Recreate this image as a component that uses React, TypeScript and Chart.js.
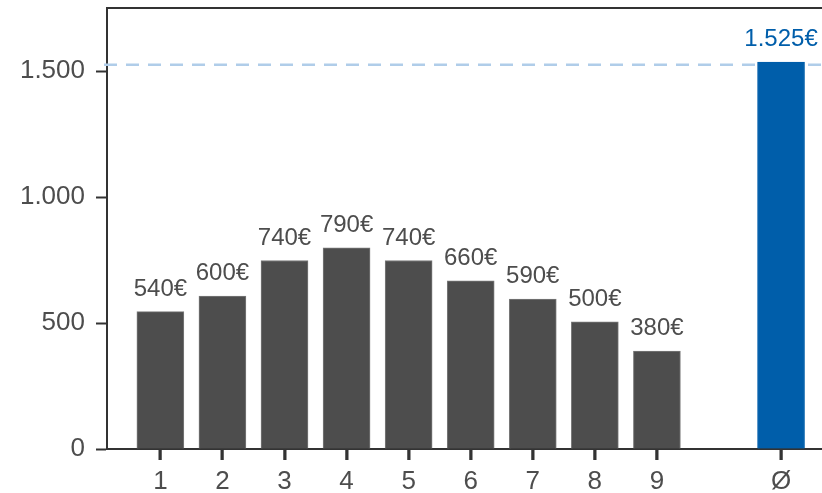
import React, { useEffect, useRef } from "react";
import { Chart, registerables } from "chart.js";

Chart.register(...registerables);

const categories: number[] = [1, 2, 3, 4, 5, 6, 7, 8, 9, 11];
const tickNames: string[] = ["1", "2", "3", "4", "5", "6", "7", "8", "9", "Ø"];
const barValues: number[] = [545, 607, 748, 798, 748, 667, 595, 505, 389, 1535];
const barLabels: string[] = ["540€", "600€", "740€", "790€", "740€", "660€", "590€", "500€", "380€", "1.525€"];
const averageValue = 1525;
const yTicks: number[] = [0, 500, 1000, 1500];

const GREY = "#4d4d4d";
const BLUE = "#005eaa";
const AXIS = "#333333";
const FONT = "'Liberation Sans', Arial, sans-serif";

function fmt(v: number): string {
  const s = Math.round(v).toString();
  return s.replace(/\B(?=(\d{3})+(?!\d))/g, ".");
}

export default function App() {
  const ref = useRef<HTMLCanvasElement | null>(null);

  useEffect(() => {
    document.body.style.margin = "0";
    document.body.style.overflow = "hidden";
    const canvas = ref.current;
    if (!canvas) return;

    const decor = {
      id: "decor",
      beforeDatasetsDraw(chart: any) {
        const { ctx, chartArea, scales } = chart;
        const y = scales.y.getPixelForValue(averageValue);
        ctx.save();
        ctx.strokeStyle = "#b0cde9";
        ctx.lineWidth = 2.5;
        ctx.setLineDash([13, 9]);
        ctx.beginPath();
        ctx.moveTo(chartArea.left - 3, y);
        ctx.lineTo(chartArea.right, y);
        ctx.stroke();
        ctx.restore();
        ctx.save();
        ctx.strokeStyle = AXIS;
        ctx.lineWidth = 2;
        ctx.beginPath();
        ctx.moveTo(chartArea.left, chartArea.top);
        ctx.lineTo(chartArea.right, chartArea.top);
        ctx.stroke();
        ctx.restore();
      },
      afterDraw(chart: any) {
        const { ctx, chartArea, scales } = chart;
        ctx.save();
        ctx.setLineDash([]);
        ctx.fillStyle = AXIS;
        categories.forEach((c) => {
          const x = Math.round(scales.x.getPixelForValue(c));
          ctx.fillRect(x - 1.5, chartArea.bottom, 3, 11);
        });
        ctx.restore();
      },
      afterDatasetsDraw(chart: any) {
        const { ctx } = chart;
        const meta = chart.getDatasetMeta(0);
        ctx.save();
        ctx.font = `24px ${FONT}`;
        ctx.textAlign = "center";
        ctx.textBaseline = "alphabetic";
        meta.data.forEach((bar: any, i: number) => {
          ctx.fillStyle = i === barLabels.length - 1 ? BLUE : GREY;
          ctx.fillText(barLabels[i], bar.x, bar.y - 16);
        });
        ctx.restore();
      },
    };

    const chart = new Chart(canvas, {
      type: "bar",
      data: {
        datasets: [
          {
            data: categories.map((c, i) => ({ x: c, y: barValues[i] })),
            backgroundColor: categories.map((c, i) => (i === categories.length - 1 ? BLUE : GREY)),
            borderColor: categories.map((c, i) => (i === categories.length - 1 ? BLUE : "#7a7a7a")),
            borderWidth: 1,
            barThickness: 47,
          },
        ],
      },
      options: {
        responsive: false,
        animation: false,
        layout: { padding: { top: 8, right: 0, left: 0, bottom: 0 } },
        plugins: { legend: { display: false }, tooltip: { enabled: false } },
        scales: {
          x: {
            type: "linear",
            offset: false,
            min: 0.14,
            max: 11.66,
            afterBuildTicks: (scale: any) => {
              scale.ticks = categories.map((v) => ({ value: v }));
            },
            afterFit: (scale: any) => {
              scale.height = 44;
              scale.paddingLeft = 0;
              scale.paddingRight = 0;
            },
            ticks: {
              autoSkip: false,
              maxRotation: 0,
              color: GREY,
              padding: 6,
              font: { family: FONT, size: 26 },
              callback: (v: any) => {
                const idx = categories.indexOf(Number(v));
                return idx >= 0 ? tickNames[idx] : "";
              },
            },
            grid: {
              offset: false,
              drawOnChartArea: false,
              drawTicks: true,
              tickLength: 11,
              tickWidth: 2,
              tickColor: AXIS,
            },
            border: { display: true, color: AXIS, width: 2 },
          },
          y: {
            min: 0,
            max: 1750,
            afterBuildTicks: (scale: any) => {
              scale.ticks = yTicks.map((v) => ({ value: v }));
            },
            afterFit: (scale: any) => {
              scale.width = 107;
              scale.paddingTop = 0;
              scale.paddingBottom = 0;
            },
            ticks: {
              color: GREY,
              padding: 11,
              font: { family: FONT, size: 26 },
              callback: (v: any) => fmt(Number(v)),
            },
            grid: {
              drawOnChartArea: false,
              drawTicks: true,
              tickLength: 11,
              tickWidth: 2,
              tickColor: AXIS,
            },
            border: { display: true, color: AXIS, width: 2 },
          },
        },
      },
      plugins: [decor],
    } as any);

    return () => chart.destroy();
  }, []);

  return <canvas ref={ref} width={822} height={493} style={{ display: "block" }} />;
}
